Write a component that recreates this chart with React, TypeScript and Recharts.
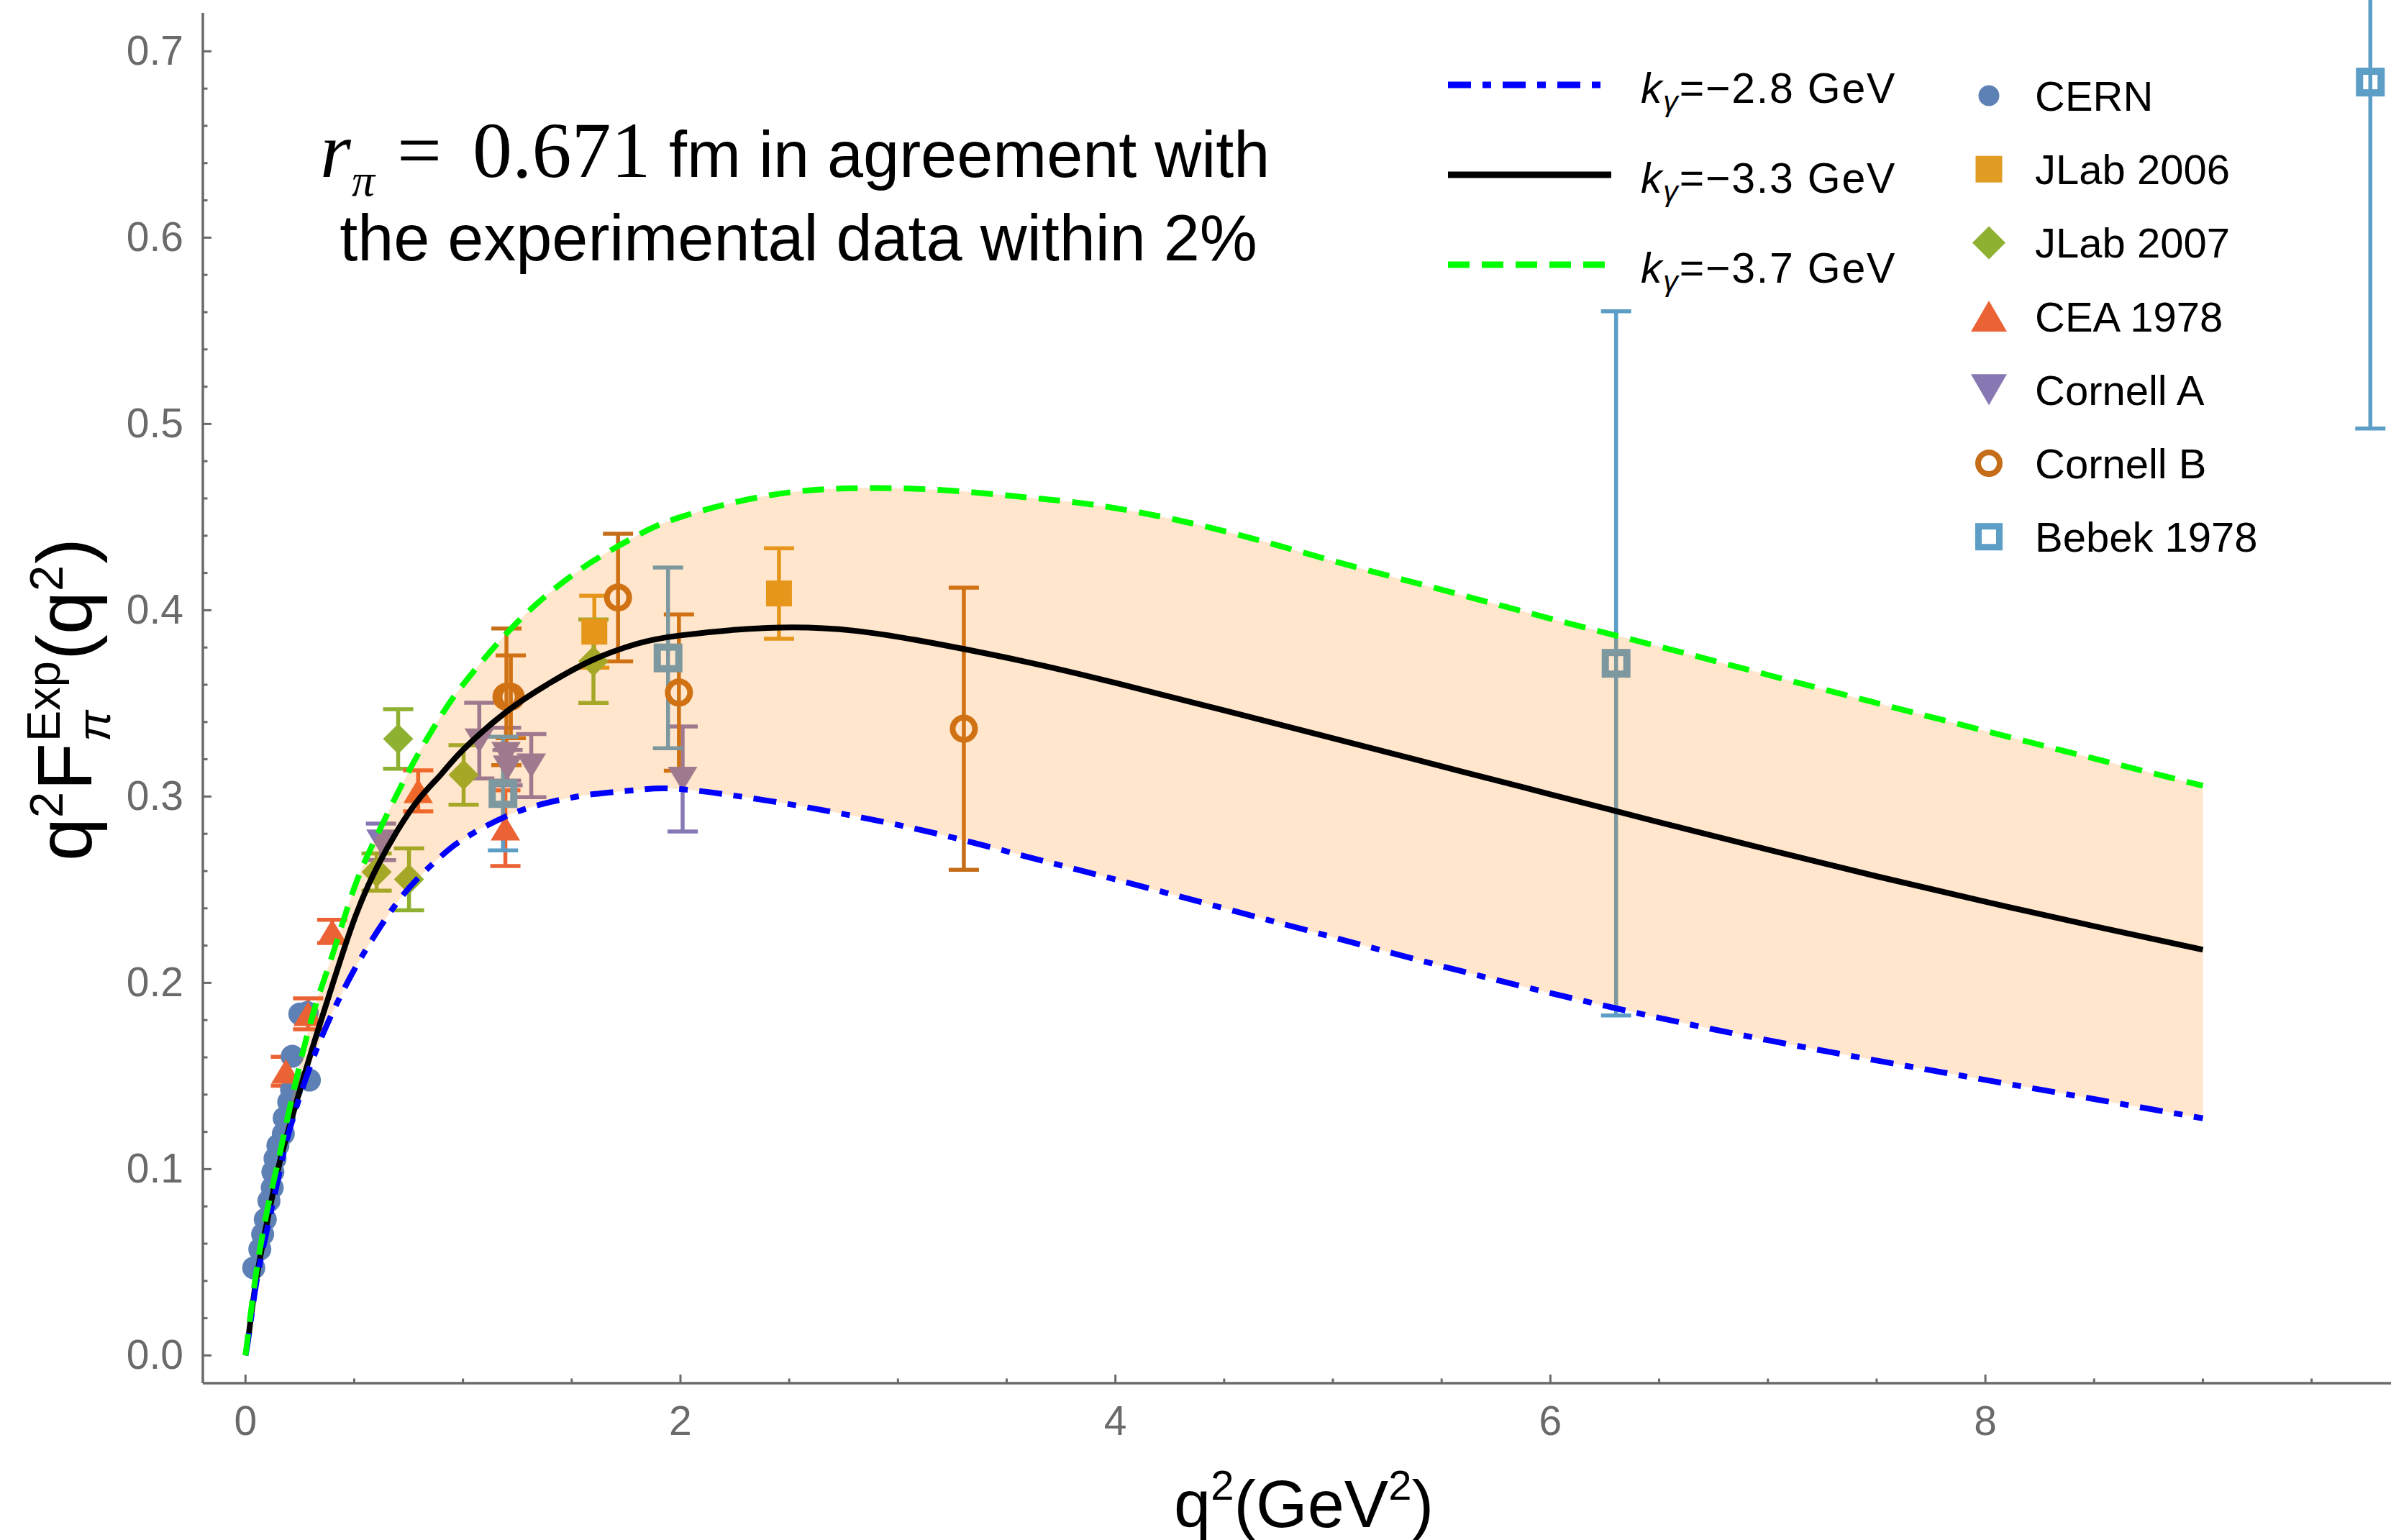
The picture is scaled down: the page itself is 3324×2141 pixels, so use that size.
import React from 'react';
import { ComposedChart, Line, Area, Scatter, XAxis, YAxis, ErrorBar } from 'recharts';

const W = 3324;
const H = 2141;

// ---- theory curves q^2 F_pi(q^2) for three k_gamma values, on a common q^2 grid ----
const CURVE_Q = [0, 0.015, 0.05, 0.1, 0.15, 0.2, 0.3, 0.4, 0.5, 0.6, 0.7, 0.8, 0.9, 1.0, 1.2, 1.4, 1.6, 1.8, 2.0, 2.4, 2.8, 3.2, 3.6, 4.0, 4.5, 5.0, 5.5, 6.0, 6.5, 7.0, 7.5, 8.0, 8.5, 9.0];
const CURVE_K28 = [0, 0.0105, 0.039, 0.068, 0.095, 0.12, 0.156, 0.184, 0.207, 0.2265, 0.2435, 0.257, 0.268, 0.277, 0.2895, 0.297, 0.3013, 0.3035, 0.304, 0.2978, 0.2895, 0.2795, 0.2675, 0.2555, 0.24, 0.2245, 0.209, 0.1945, 0.1812, 0.1692, 0.1583, 0.1479, 0.1376, 0.1273];
const CURVE_K33 = [null, 0.011, 0.041, 0.072, 0.1, 0.122, 0.162, 0.199, 0.234, 0.261, 0.282, 0.299, 0.312, 0.325, 0.3455, 0.361, 0.3735, 0.382, 0.3865, 0.3905, 0.389, 0.3815, 0.372, 0.361, 0.3462, 0.3313, 0.3162, 0.3012, 0.2862, 0.2715, 0.2572, 0.2435, 0.2304, 0.2178];
const CURVE_K37 = [0, 0.014, 0.045, 0.078, 0.104, 0.131, 0.179, 0.215, 0.251, 0.278, 0.302, 0.324, 0.3435, 0.36, 0.3875, 0.4095, 0.4265, 0.44, 0.45, 0.4615, 0.4655, 0.4645, 0.4605, 0.4548, 0.4425, 0.4265, 0.411, 0.3955, 0.3805, 0.3653, 0.3502, 0.3352, 0.3204, 0.3058];

// ---- experimental data: [q^2, q^2 F, error] ----
const CERN = [
  [0.038, 0.047], [0.066, 0.057], [0.079, 0.065], [0.091, 0.073], [0.108, 0.083], [0.123, 0.09],
  [0.126, 0.0985], [0.136, 0.1056], [0.149, 0.1127], [0.174, 0.119], [0.178, 0.1274], [0.199, 0.136],
  [0.212, 0.1426], [0.215, 0.1606], [0.25, 0.1833], [0.284, 0.184], [0.294, 0.1478],
];
const JLAB_2006 = [[1.604, 0.3885, 0.0193], [2.453, 0.409, 0.0243]];
const JLAB_2007 = [[0.603, 0.2595, 0.01], [0.702, 0.3309, 0.016], [0.752, 0.2556, 0.0166], [1.003, 0.3116, 0.016], [1.6, 0.3726, 0.0224]];
const CEA_1978 = [[0.186, 0.1525, 0.0078], [0.288, 0.1834, 0.0083], [0.399, 0.2276, 0.0062], [0.794, 0.303, 0.011], [1.195, 0.283, 0.0203]];
const CORNELL_A = [[0.623, 0.2757, 0.0098], [1.075, 0.33, 0.0203], [1.198, 0.3227, 0.0142], [1.205, 0.3155, 0.0095], [1.314, 0.3166, 0.0169], [2.01, 0.3094, 0.0282]];
const CORNELL_B = [[1.2, 0.3535, 0.0367], [1.22, 0.3535, 0.0222], [1.713, 0.4068, 0.0343], [1.993, 0.3558, 0.0419], [3.303, 0.3364, 0.0757]];
const BEBEK_1978 = [[1.184, 0.3016, 0.0305], [1.943, 0.3744, 0.0485], [6.302, 0.3715, 0.189], [9.77, 0.6835, 0.186]];

// ---- axes ----
const X_DOMAIN = [-0.196, 9.865];
const Y_DOMAIN = [-0.0149, 0.7206];
const X_MAJOR = [0, 2, 4, 6, 8];
const X_LABELS = ['0', '2', '4', '6', '8'];
const Y_MAJOR = [0, 0.1, 0.2, 0.3, 0.4, 0.5, 0.6, 0.7];
const Y_LABELS = ['0.0', '0.1', '0.2', '0.3', '0.4', '0.5', '0.6', '0.7'];
const X_TICKS = Array.from({ length: 20 }, (_, i) => i * 0.5);
const Y_TICKS = Array.from({ length: 36 }, (_, i) => Math.round(i * 2) / 100);

const CURVE_LABELS = ['-2.8', '-3.3', '-3.7'];

const SANS = "'Liberation Sans', Arial, Helvetica, sans-serif";
const SERIF = "'Liberation Serif', 'Times New Roman', serif";
const FRAME = '#6a6a6a';

const BLUE = '#0000ff';
const GREEN = '#00ff00';
const BLUE_DASH = '32 16 12 16';
const GREEN_DASH = '30 17';
const BAND_FILL = 'rgb(255,128,0)';

type Kind = 'circle' | 'square' | 'diamond' | 'up' | 'down' | 'ring' | 'box';

const SERIES: { name: string; color: string; kind: Kind; pts: number[][] }[] = [
  { name: 'CERN', color: '#5E81B5', kind: 'circle', pts: CERN },
  { name: 'JLab 2006', color: '#E19C24', kind: 'square', pts: JLAB_2006 },
  { name: 'JLab 2007', color: '#8FB131', kind: 'diamond', pts: JLAB_2007 },
  { name: 'CEA 1978', color: '#EB6235', kind: 'up', pts: CEA_1978 },
  { name: 'Cornell A', color: '#8778B3', kind: 'down', pts: CORNELL_A },
  { name: 'Cornell B', color: '#C56E1A', kind: 'ring', pts: CORNELL_B },
  { name: 'Bebek 1978', color: '#5D9EC7', kind: 'box', pts: BEBEK_1978 },
];

const PLOT_SZ = { r: 16, sq: 18, dia: 21, triW: 41, triH: 34, ring: 15.5, ringW: 8, box: 15, boxW: 10 };
const LEG_SZ = { r: 14.5, sq: 18.5, dia: 23, triW: 50, triH: 43, ring: 15, ringW: 8, box: 14.5, boxW: 9 };

function drawMarker(kind: Kind, cx: number, cy: number, color: string, s: typeof PLOT_SZ) {
  switch (kind) {
    case 'circle':
      return <circle cx={cx} cy={cy} r={s.r} fill={color} />;
    case 'square':
      return <rect x={cx - s.sq} y={cy - s.sq} width={2 * s.sq} height={2 * s.sq} fill={color} />;
    case 'diamond':
      return <polygon points={`${cx},${cy - s.dia} ${cx + s.dia},${cy} ${cx},${cy + s.dia} ${cx - s.dia},${cy}`} fill={color} />;
    case 'up':
      return <polygon points={`${cx},${cy - s.triH / 2} ${cx + s.triW / 2},${cy + s.triH / 2} ${cx - s.triW / 2},${cy + s.triH / 2}`} fill={color} />;
    case 'down':
      return <polygon points={`${cx - s.triW / 2},${cy - s.triH / 2} ${cx + s.triW / 2},${cy - s.triH / 2} ${cx},${cy + s.triH / 2}`} fill={color} />;
    case 'ring':
      return <circle cx={cx} cy={cy} r={s.ring} fill="none" stroke={color} strokeWidth={s.ringW} />;
    case 'box':
      return <rect x={cx - s.box} y={cy - s.box} width={2 * s.box} height={2 * s.box} fill="none" stroke={color} strokeWidth={s.boxW} />;
  }
  return null;
}

const isIn = (arr: number[], v: number) => arr.findIndex((m) => Math.abs(m - v) < 1e-6);

const YTick = (props: any) => {
  const { x, y, payload } = props;
  const idx = isIn(Y_MAJOR, payload.value);
  const major = idx >= 0;
  return (
    <g>
      <line x1={x} y1={y} x2={x + (major ? 12 : 6.5)} y2={y} stroke={FRAME} strokeWidth={3} />
      {major && (
        <text x={x - 27} y={y + 19} textAnchor="end" fontSize={57} fontFamily={SANS} fill={FRAME}>
          {Y_LABELS[idx]}
        </text>
      )}
    </g>
  );
};

const XTick = (props: any) => {
  const { x, y, payload } = props;
  const idx = isIn(X_MAJOR, payload.value);
  const major = idx >= 0;
  return (
    <g>
      <line x1={x} y1={y} x2={x} y2={y - (major ? 12 : 6.5)} stroke={FRAME} strokeWidth={3} />
      {major && (
        <text x={x} y={y + 72} textAnchor="middle" fontSize={57} fontFamily={SANS} fill={FRAME}>
          {X_LABELS[idx]}
        </text>
      )}
    </g>
  );
};

const TopTick = (props: any) => {
  const { x, y, payload } = props;
  const major = isIn(X_MAJOR, payload.value) >= 0;
  return <line x1={x} y1={y} x2={x} y2={y + (major ? 12 : 6.5)} stroke={FRAME} strokeWidth={3} />;
};

const curveRows = CURVE_Q.map((q, i) => ({
  q,
  k28: CURVE_K28[i],
  k33: CURVE_K33[i],
  k37: CURVE_K37[i],
  band: [CURVE_K28[i], CURVE_K37[i]],
}));

const toPts = (pts: number[][]) => pts.map((p) => ({ q: p[0], v: p[1], e: p[2] ?? 0 }));

function Overlay() {
  const lineRows = [
    { y: 118, stroke: BLUE, dash: BLUE_DASH },
    { y: 243, stroke: '#000', dash: undefined },
    { y: 368, stroke: GREEN, dash: GREEN_DASH },
  ];
  return (
    <svg width={W} height={H} style={{ position: 'absolute', left: 0, top: 0, pointerEvents: 'none' }}>
      {/* annotation */}
      <text x={445} y={246} fontFamily={SERIF} fontStyle="italic" fontSize={110}>r</text>
      <text x={489} y={272} fontFamily={SERIF} fontStyle="italic" fontSize={64}>π</text>
      <text x={552} y={246} fontFamily={SERIF} fontSize={110}>=</text>
      <text x={657} y={246} fontFamily={SERIF} fontSize={110}>0.671</text>
      <text x={930} y={246} fontFamily={SANS} fontSize={90}>fm in agreement with</text>
      <text x={1110} y={362} fontFamily={SANS} fontSize={90} textAnchor="middle">the experimental data within 2%</text>

      {/* curve legend */}
      {lineRows.map((r, i) => (
        <g key={i}>
          <line x1={2013} x2={2240} y1={r.y} y2={r.y} stroke={r.stroke} strokeWidth={9} strokeDasharray={r.dash} />
          <text x={2281} y={r.y + 25} fontFamily={SANS} fontSize={59} letterSpacing={1.8}>
            <tspan fontStyle="italic">k</tspan>
            <tspan fontStyle="italic" fontSize={41} dy={12}>γ</tspan>
            <tspan dy={-12}>{'=' + CURVE_LABELS[i].replace('-', '−') + ' GeV'}</tspan>
          </text>
        </g>
      ))}

      {/* data legend */}
      {SERIES.map((s, i) => {
        const cy = 133 + i * 102.2;
        return (
          <g key={s.name}>
            {drawMarker(s.kind, 2765, cy, s.color, LEG_SZ)}
            <text x={2829} y={cy + 21} fontFamily={SANS} fontSize={58}>{s.name}</text>
          </g>
        );
      })}

      {/* x axis title */}
      <text x={1632} y={2123} fontFamily={SANS} fontSize={92}>
        q<tspan dy={-38} fontSize={58}>2</tspan>
        <tspan dy={38}>(GeV</tspan>
        <tspan dy={-38} fontSize={58}>2</tspan>
        <tspan dy={38}>)</tspan>
      </text>

      {/* y axis title */}
      <g transform="translate(127,1197) rotate(-90)" fontFamily={SANS}>
        <text x={0} y={0} fontSize={108}>q</text>
        <text x={60} y={-40} fontSize={65}>2</text>
        <text x={98} y={0} fontSize={108}>F</text>
        <text x={166} y={-44} fontSize={65}>Exp</text>
        <text x={166} y={26} fontSize={65} fontStyle="italic">π</text>
        <text x={279} y={0} fontSize={108}>(q</text>
        <text x={375} y={-40} fontSize={65}>2</text>
        <text x={413} y={0} fontSize={108}>)</text>
      </g>
    </svg>
  );
}

export default function App() {
  return (
    <div style={{ position: 'absolute', left: 0, top: 0, width: W, height: H, background: '#fff' }}>
      <ComposedChart
        width={W}
        height={H}
        data={curveRows}
        margin={{ top: 18, right: 0, bottom: 0, left: 0 }}
      >
        <XAxis
          dataKey="q"
          type="number"
          domain={X_DOMAIN}
          allowDataOverflow
          ticks={X_TICKS}
          interval={0}
          height={218}
          tickSize={0}
          tickMargin={0}
          tickLine={false}
          tick={<XTick />}
          axisLine={{ stroke: FRAME, strokeWidth: 3.5 }}
        />
        <XAxis
          xAxisId="top"
          orientation="top"
          type="number"
          domain={X_DOMAIN}
          allowDataOverflow
          ticks={X_TICKS}
          interval={0}
          height={0}
          tickSize={0}
          tickMargin={0}
          tickLine={false}
          tick={<TopTick />}
          axisLine={{ stroke: FRAME, strokeWidth: 3.5 }}
        />
        <YAxis
          type="number"
          domain={Y_DOMAIN}
          allowDataOverflow
          ticks={Y_TICKS}
          interval={0}
          width={282}
          tickSize={0}
          tickMargin={0}
          tickLine={false}
          tick={<YTick />}
          axisLine={{ stroke: FRAME, strokeWidth: 3.5 }}
        />

        {SERIES.map((s) => (
          <Scatter
            key={s.name}
            name={s.name}
            data={toPts(s.pts)}
            dataKey="v"
            isAnimationActive={false}
            shape={(p: any) => drawMarker(s.kind, p.cx, p.cy, s.color, PLOT_SZ)}
          >
            {s.pts[0].length > 2 && (
              <ErrorBar dataKey="e" direction="y" width={21} strokeWidth={5.5} stroke={s.color} />
            )}
          </Scatter>
        ))}

        <Area
          dataKey="band"
          type="natural"
          stroke="none"
          fill={BAND_FILL}
          fillOpacity={0.2}
          isAnimationActive={false}
          zIndex={650}
        />
        <Line dataKey="k33" type="natural" stroke="#000" strokeWidth={8} dot={false} isAnimationActive={false} zIndex={700} />
        <Line dataKey="k28" type="natural" stroke={BLUE} strokeWidth={8} strokeDasharray={BLUE_DASH} dot={false} isAnimationActive={false} zIndex={701} />
        <Line dataKey="k37" type="natural" stroke={GREEN} strokeWidth={8} strokeDasharray={GREEN_DASH} dot={false} isAnimationActive={false} zIndex={702} />
      </ComposedChart>
      <Overlay />
    </div>
  );
}
